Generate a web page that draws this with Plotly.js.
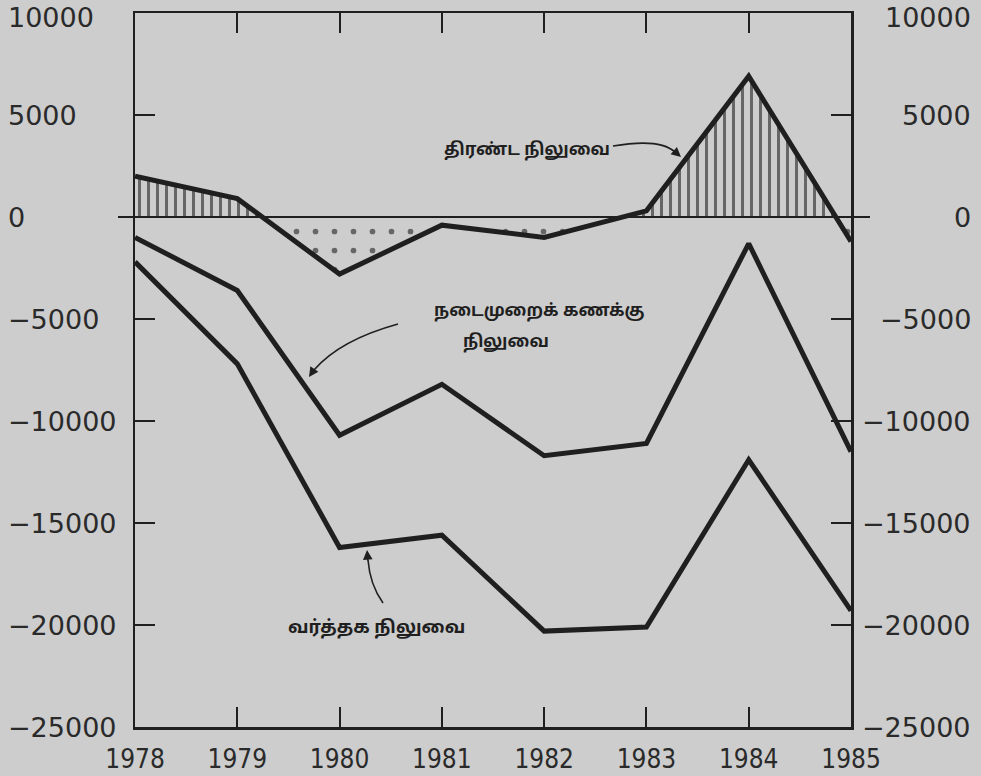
<!DOCTYPE html>
<html>
<head>
<meta charset="utf-8">
<script src="https://cdn.plot.ly/plotly-3.0.1.min.js"></script>
<style>
  html, body { margin: 0; padding: 0; background: #cdcdcd; }
  #chart { width: 981px; height: 776px; }
</style>
</head>
<body>
<div id="chart"></div>
<script>
// ---- data ----
const years = [1978, 1979, 1980, 1981, 1982, 1983, 1984, 1985];
const yearLabels = ['1978', '1979', '1980', '1981', '1982', '1983', '1984', '1985'];
const overallBalance = [2000, 900, -2800, -400, -1000, 300, 6900, -1200];   // திரண்ட நிலுவை
const currentAccount = [-1000, -3600, -10700, -8200, -11700, -11100, -1300, -11500]; // நடைமுறைக் கணக்கு நிலுவை
const tradeBalance = [-2200, -7200, -16200, -15600, -20300, -20100, -11900, -19300];  // வர்த்தக நிலுவை
const yTickVals = [10000, 5000, 0, -5000, -10000, -15000, -20000, -25000];
const yTickText = ['10000', '5000', '0', '\u22125000', '\u221210000', '\u221215000', '\u221220000', '\u221225000'];

// ---- helpers ----
function clipWithCrossings(xs, ys, keepPositive) {
  const ox = [], oy = [];
  const clip = v => keepPositive ? Math.max(v, 0) : Math.min(v, 0);
  for (let i = 0; i < xs.length; i++) {
    if (i > 0) {
      const y0 = ys[i - 1], y1 = ys[i];
      if ((y0 > 0 && y1 < 0) || (y0 < 0 && y1 > 0)) {
        const t = y0 / (y0 - y1);
        ox.push(xs[i - 1] + t * (xs[i] - xs[i - 1]));
        oy.push(0);
      }
    }
    ox.push(xs[i]); oy.push(clip(ys[i]));
  }
  return { x: ox, y: oy };
}

const L = 135, R = 851, T = 13, B = 727;
const px = x => (x - L) / (R - L);
const py = y => (B - y) / (B - T);
const P = (x, y) => px(x).toFixed(4) + ',' + py(y).toFixed(4);

const ink = '#1f1f1f';
const pos = clipWithCrossings(years, overallBalance, true);
const neg = clipWithCrossings(years, overallBalance, false);

const traces = [
  { x: pos.x, y: pos.y, type: 'scatter', mode: 'lines', line: { width: 0 },
    fill: 'tozeroy', fillcolor: 'rgba(0,0,0,0)',
    fillpattern: { shape: '|', size: 9, solidity: 0.34, fgcolor: '#000000', fillmode: 'overlay' } },
  { x: neg.x, y: neg.y, type: 'scatter', mode: 'lines', line: { width: 0 },
    fill: 'tozeroy', fillcolor: 'rgba(0,0,0,0)',
    fillpattern: { shape: '.', size: 19, solidity: 0.07, fgcolor: '#000000', fillmode: 'overlay' } },
  { x: years, y: overallBalance, type: 'scatter', mode: 'lines', line: { color: ink, width: 5 } },
  { x: years, y: currentAccount, type: 'scatter', mode: 'lines', line: { color: ink, width: 5 } },
  { x: years, y: tradeBalance, type: 'scatter', mode: 'lines', line: { color: ink, width: 5 } }
];

const numFont = { family: 'DejaVu Sans, sans-serif', size: 27, color: '#2a2a2a' };
const tamilFont = { family: 'Noto Sans Tamil, Lohit Tamil, Noto Sans, sans-serif', size: 17, color: '#1f1f1f', weight: 'bold' };

const annotations = [];
yTickVals.forEach((v, i) => {
  const ys = (i === 0) ? -4 : 0;
  annotations.push({ xref: 'paper', yref: 'y', x: px(6), y: v, xanchor: 'left', yanchor: 'middle', yshift: ys,
    text: yTickText[i], showarrow: false, font: numFont });
  annotations.push({ xref: 'paper', yref: 'y', x: px(973), y: v, xanchor: 'right', yanchor: 'middle', yshift: ys,
    text: yTickText[i], showarrow: false, font: numFont });
});

// text labels
annotations.push({ xref: 'paper', yref: 'paper', x: px(527), y: py(150), text: 'திரண்ட நிலுவை',
  showarrow: false, font: tamilFont, xanchor: 'center', yanchor: 'middle' });
annotations.push({ xref: 'paper', yref: 'paper', x: px(539), y: py(311), text: 'நடைமுறைக் கணக்கு',
  showarrow: false, font: tamilFont, xanchor: 'center', yanchor: 'middle' });
annotations.push({ xref: 'paper', yref: 'paper', x: px(506), y: py(342), text: 'நிலுவை',
  showarrow: false, font: tamilFont, xanchor: 'center', yanchor: 'middle' });
annotations.push({ xref: 'paper', yref: 'paper', x: px(376), y: py(628), text: 'வர்த்தக நிலுவை',
  showarrow: false, font: Object.assign({}, tamilFont, { size: 18 }), xanchor: 'center', yanchor: 'middle' });

// arrowheads
function head(tipX, tipY, dx, dy) {
  annotations.push({ xref: 'paper', yref: 'paper', x: px(tipX), y: py(tipY), text: '',
    showarrow: true, arrowhead: 2, arrowsize: 1.2, arrowwidth: 1.6, arrowcolor: ink,
    ax: dx, ay: dy });
}
head(681, 157, -8, -7);
head(309, 377, 6, -9);
head(367, 550, 1, 12);

const shapes = [
  { type: 'line', xref: 'paper', yref: 'y', x0: px(118), x1: px(870), y0: 0, y1: 0,
    line: { color: ink, width: 2 } },
  { type: 'path', xref: 'paper', yref: 'paper', path: 'M' + P(613, 146) + ' Q' + P(660, 138) + ' ' + P(675, 152),
    line: { color: ink, width: 1.6 } },
  { type: 'path', xref: 'paper', yref: 'paper', path: 'M' + P(398, 324) + ' Q' + P(340, 340) + ' ' + P(314, 370),
    line: { color: ink, width: 1.6 } },
  { type: 'path', xref: 'paper', yref: 'paper', path: 'M' + P(383, 603) + ' Q' + P(370, 585) + ' ' + P(368, 560),
    line: { color: ink, width: 1.6 } }
];

const layout = {
  width: 981, height: 776,
  margin: { l: L, r: 981 - R, t: T, b: 776 - B, pad: 0 },
  paper_bgcolor: '#cdcdcd', plot_bgcolor: 'rgba(0,0,0,0)',
  showlegend: false, hovermode: false,
  xaxis: {
    type: 'linear', range: [1978, 1985], tickmode: 'array', tickvals: years, ticktext: yearLabels,
    showgrid: false, zeroline: false, showline: true, mirror: 'ticks', linecolor: ink, linewidth: 2.5,
    ticks: 'inside', ticklen: 20, tickwidth: 2, tickcolor: ink,
    tickfont: { family: 'Liberation Sans Narrow, DejaVu Sans Condensed, sans-serif', size: 26, color: '#2a2a2a' },
    ticklabelstandoff: 7
  },
  yaxis: {
    range: [-25000, 10000], tickmode: 'array', tickvals: yTickVals, ticktext: yTickText,
    showticklabels: false,
    showgrid: false, zeroline: false, showline: true, mirror: 'ticks', linecolor: ink, linewidth: 2.5,
    ticks: 'inside', ticklen: 20, tickwidth: 2, tickcolor: ink
  },
  annotations: annotations,
  shapes: shapes
};

Plotly.newPlot('chart', traces, layout, { staticPlot: true, displayModeBar: false });
</script>
</body>
</html>
